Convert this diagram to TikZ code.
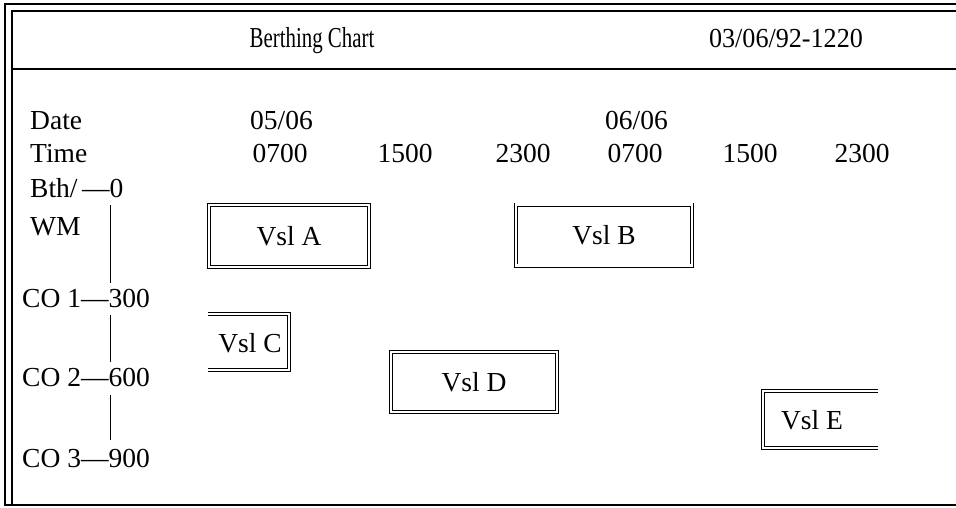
\documentclass[tikz,border=0pt]{standalone}
\usepackage{fontspec}
\setmainfont{Liberation Serif}
\begin{document}
\begin{tikzpicture}[x=1pt,y=-1pt,
  txt/.style={font=\fontsize{27.5}{32}\selectfont, inner sep=0pt, anchor=base west},
  ctxt/.style={font=\fontsize{27.5}{32}\selectfont, inner sep=0pt, anchor=base},
  frame/.style={line width=1.2pt},
  axis/.style={line width=0.8pt},
  vbox/.style={draw, line width=0.9pt, double, double distance=2.2pt, inner sep=0pt,
    font=\fontsize{27.5}{32}\selectfont},
  vopen/.style={line width=0.9pt, double, double distance=2.2pt}]
\useasboundingbox (0,0) rectangle (956,507);
% frame
\draw[frame] (956,4) -- (5,4) -- (5,505) -- (956,505);
\draw[frame] (956,11) -- (12,11) -- (12,505);
\draw[frame] (12,69) -- (956,69);
% header
\node[ctxt] (title) at (312,47) {\scalebox{0.76}[1.05]{Berthing Chart}};
\node[ctxt] (stamp) at (786,47) {\scalebox{0.95}[1]{03/06/92-1220}};
% rows
\node[txt] (date) at (30,129) {Date};
\node[txt] (d1) at (250,129) {05/06};
\node[txt] (d2) at (605,129) {06/06};
\node[txt] (time) at (30,162) {Time};
\node[ctxt] (t1) at (280,162) {0700};
\node[ctxt] (t2) at (405,162) {1500};
\node[ctxt] (t3) at (523,162) {2300};
\node[ctxt] (t4) at (635,162) {0700};
\node[ctxt] (t5) at (750,162) {1500};
\node[ctxt] (t6) at (862,162) {2300};
% berth axis
\node[txt] (bth) at (30,197) {Bth/\,---0};
\node[txt] (wm) at (30,235) {WM};
\node[txt] (co1) at (22,307) {CO 1---300};
\node[txt] (co2) at (22,386) {CO 2---600};
\node[txt] (co3) at (22,467) {CO 3---900};
\coordinate (a1) at (110,205); \coordinate (a2) at (110,283);
\coordinate (a3) at (110,315); \coordinate (a4) at (110,362);
\coordinate (a5) at (110,395); \coordinate (a6) at (110,440);
\draw[axis] (a1) -- (a2);
\draw[axis] (a3) -- (a4);
\draw[axis] (a5) -- (a6);
% vessels
\node[vbox, minimum width=160pt, minimum height=62pt] (va) at (289,236) {Vsl A};
\node[vbox, minimum width=176pt, minimum height=61pt] (vb) at (604,235) {Vsl B};
\node[vbox, minimum width=166pt, minimum height=60pt] (vd) at (474,382) {Vsl D};
\coordinate (c1) at (208,314); \coordinate (c2) at (289,314);
\coordinate (c3) at (289,370); \coordinate (c4) at (208,370);
\draw[vopen] (c1) -- (c2) -- (c3) -- (c4);
\node[ctxt] (vc) at (250,352) {Vsl C};
\coordinate (e1) at (878,391); \coordinate (e2) at (763,391);
\coordinate (e3) at (763,448); \coordinate (e4) at (878,448);
\draw[vopen] (e1) -- (e2) -- (e3) -- (e4);
\node[ctxt] (ve) at (812,429) {Vsl E};
\end{tikzpicture}
\end{document}
